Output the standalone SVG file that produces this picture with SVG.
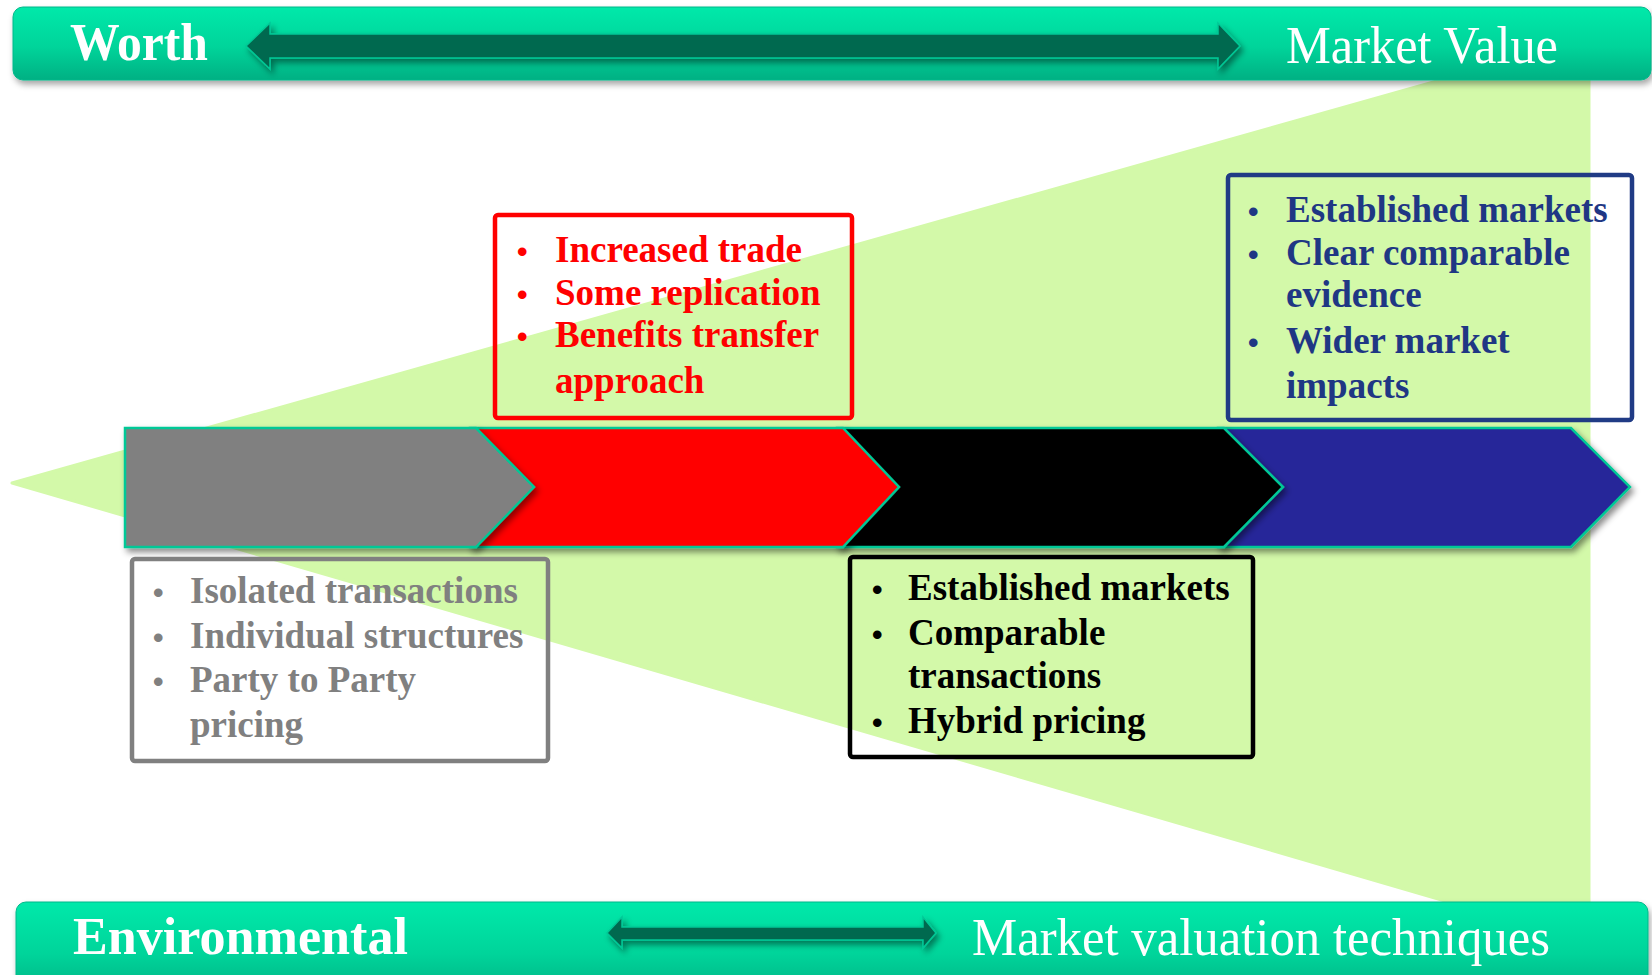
<svg xmlns="http://www.w3.org/2000/svg" width="1652" height="975" viewBox="0 0 1652 975">
  <defs>
    <linearGradient id="bannerFill" x1="0" y1="0" x2="0" y2="1">
      <stop offset="0" stop-color="#00E9AA"/>
      <stop offset="0.55" stop-color="#00D49A"/>
      <stop offset="1" stop-color="#00B083"/>
    </linearGradient>
    <filter id="shadow" x="-5%" y="-20%" width="110%" height="150%">
      <feDropShadow dx="3" dy="4" stdDeviation="3" flood-color="#000" flood-opacity="0.45"/>
    </filter>
    <filter id="softShadow" x="-5%" y="-20%" width="110%" height="160%">
      <feDropShadow dx="2" dy="4" stdDeviation="3" flood-color="#000" flood-opacity="0.35"/>
    </filter>
    <style>
      .banner { fill: url(#bannerFill); stroke: #00B88A; stroke-width: 1; filter: url(#softShadow); }
      .bannerText { fill: #FFFFFF; font-family: "Liberation Serif", "Times New Roman", serif; font-size: 52px; }
      .bold { font-weight: bold; }
      .dblArrow { fill: #00694F; stroke: #00C896; stroke-width: 1.5; stroke-linejoin: miter; filter: url(#shadow); }
      .chevron { stroke: #00C896; stroke-width: 2.5; stroke-linejoin: miter; filter: url(#shadow); }
      .box { fill: none; stroke-width: 4.5; }
      .boxText { font-family: "Liberation Serif", "Times New Roman", serif; font-size: 37px; font-weight: bold; }
      .bullet { font-family: "Liberation Sans", Arial, sans-serif; font-size: 30px; font-weight: bold; }
    </style>
  </defs>

  <rect x="0" y="0" width="1652" height="975" fill="#FFFFFF"/>

  <!-- widening wedge behind the timeline -->
  <polygon id="wedge" points="12,483 1589,38 1589,943" fill="#D3F9A9" stroke="#D3F9A9" stroke-width="3" stroke-linejoin="round"/>

  <!-- top banner -->
  <g id="banner-top">
    <rect class="banner" x="13" y="7" width="1638" height="73" rx="10"/>
    <text class="bannerText bold" x="70" y="60" textLength="138" lengthAdjust="spacingAndGlyphs">Worth</text>
    <text class="bannerText" x="1286" y="63" textLength="272" lengthAdjust="spacingAndGlyphs">Market Value</text>
  </g>

  <!-- bottom banner -->
  <g id="banner-bottom">
    <rect class="banner" x="16" y="902" width="1632" height="95" rx="10"/>
    <text class="bannerText bold" x="73" y="954" textLength="335" lengthAdjust="spacingAndGlyphs">Environmental</text>
    <text class="bannerText" x="972" y="955" textLength="578" lengthAdjust="spacingAndGlyphs">Market valuation techniques</text>
  </g>

  <!-- double-headed arrows between the banner labels -->
  <g id="connectors">
    <path id="arrow-top" class="dblArrow" d="M246,46 L270,23 L270,34 L1218,34 L1218,23 L1240,46 L1218,69 L1218,58 L270,58 L270,69 Z"/>
    <path id="arrow-bottom" class="dblArrow" d="M607,933 L622,917 L622,927 L923,927 L923,917 L936,933 L923,948 L923,940 L622,940 L622,948 Z"/>
  </g>

  <!-- timeline chevrons (drawn back to front) -->
  <g id="chevron-blue">
    <path class="chevron" fill="#262699" d="M1218,428 H1571 L1630,487 L1571,547 H1218 Z"/>
  </g>
  <g id="chevron-black">
    <path class="chevron" fill="#000000" d="M837,428 H1224 L1283,487 L1224,547 H837 Z"/>
  </g>
  <g id="chevron-red">
    <path class="chevron" fill="#FF0000" d="M470,428 H843 L899,487 L843,547 H470 Z"/>
  </g>
  <g id="chevron-gray">
    <path class="chevron" fill="#808080" d="M125,428 H476 L534,487 L476,547 H125 Z"/>
  </g>

  <!-- stage descriptions -->
  <g id="box-gray">
    <rect class="box" x="132" y="559" width="416" height="202" rx="3" stroke="#808080"/>
    <g fill="#808080">
      <text class="bullet" x="153" y="603">•</text>
      <text class="bullet" x="153" y="648">•</text>
      <text class="bullet" x="153" y="692">•</text>
      <text class="boxText" x="190" y="603">Isolated transactions</text>
      <text class="boxText" x="190" y="648">Individual structures</text>
      <text class="boxText" x="190" y="692">Party to Party</text>
      <text class="boxText" x="190" y="737">pricing</text>
    </g>
  </g>

  <g id="box-red">
    <rect class="box" x="495" y="215" width="357" height="203" rx="3" stroke="#FF0000"/>
    <g fill="#FF0000">
      <text class="bullet" x="517" y="262">•</text>
      <text class="bullet" x="517" y="305">•</text>
      <text class="bullet" x="517" y="347">•</text>
      <text class="boxText" x="555" y="262">Increased trade</text>
      <text class="boxText" x="555" y="305">Some replication</text>
      <text class="boxText" x="555" y="347">Benefits transfer</text>
      <text class="boxText" x="555" y="393">approach</text>
    </g>
  </g>

  <g id="box-black">
    <rect class="box" x="850" y="557" width="403" height="200" rx="3" stroke="#000000"/>
    <g fill="#000000">
      <text class="bullet" x="872" y="600">•</text>
      <text class="bullet" x="872" y="645">•</text>
      <text class="bullet" x="872" y="733">•</text>
      <text class="boxText" x="908" y="600">Established markets</text>
      <text class="boxText" x="908" y="645">Comparable</text>
      <text class="boxText" x="908" y="688">transactions</text>
      <text class="boxText" x="908" y="733">Hybrid pricing</text>
    </g>
  </g>

  <g id="box-blue">
    <rect class="box" x="1228" y="175" width="404" height="245" rx="3" stroke="#203B85"/>
    <g fill="#1F3784">
      <text class="bullet" x="1248" y="222">•</text>
      <text class="bullet" x="1248" y="265">•</text>
      <text class="bullet" x="1248" y="353">•</text>
      <text class="boxText" x="1286" y="222">Established markets</text>
      <text class="boxText" x="1286" y="265">Clear comparable</text>
      <text class="boxText" x="1286" y="307">evidence</text>
      <text class="boxText" x="1286" y="353">Wider market</text>
      <text class="boxText" x="1286" y="398">impacts</text>
    </g>
  </g>
</svg>
